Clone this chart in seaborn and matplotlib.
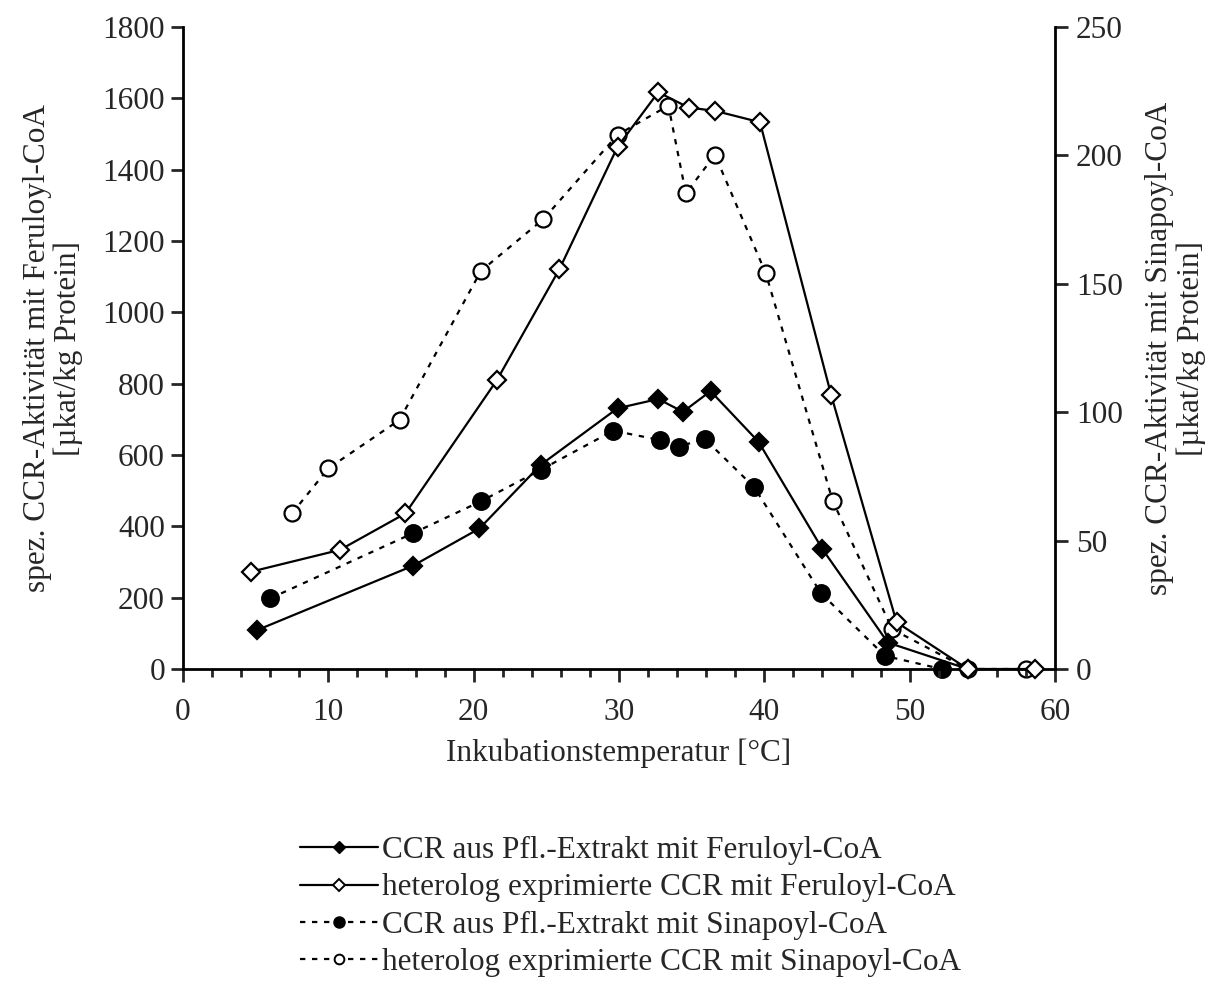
import matplotlib
matplotlib.use("Agg")
import matplotlib.pyplot as plt
from matplotlib.ticker import MultipleLocator
from matplotlib.lines import Line2D
import seaborn as sns

# ---- data ----
x_pfl_fer = [5.1, 15.8, 20.4, 24.6, 29.9, 32.7, 34.4, 36.3, 39.6, 44.0, 48.5, 54.0]
y_pfl_fer = [109, 289, 394, 572, 731, 757, 721, 779, 637, 336, 74, 0]

x_het_fer = [4.7, 10.8, 15.3, 21.6, 25.9, 29.9, 32.7, 34.8, 36.6, 39.7, 44.6, 49.1, 54.0, 58.6]
y_het_fer = [273, 334, 436, 810, 1121, 1464, 1617, 1574, 1565, 1533, 768, 131, 0, 0]

x_pfl_sin = [6.0, 15.8, 20.5, 24.6, 29.6, 32.8, 34.1, 35.9, 39.3, 43.9, 48.3, 52.2]
y_pfl_sin = [27.5, 52.8, 65.3, 77.5, 92.8, 89.2, 86.6, 89.6, 70.8, 29.5, 5.1, 0]

x_het_sin = [7.5, 10.0, 14.9, 20.5, 24.8, 29.9, 33.4, 34.6, 36.6, 40.1, 44.7, 48.8, 54.0, 58.0]
y_het_sin = [60.6, 78.1, 97.0, 155, 175.2, 208, 219.4, 185.2, 200.2, 154.1, 65.5, 15.5, 0, 0]

labels = [
    "CCR aus Pfl.-Extrakt mit Feruloyl-CoA",
    "heterolog exprimierte CCR mit Feruloyl-CoA",
    "CCR aus Pfl.-Extrakt mit Sinapoyl-CoA",
    "heterolog exprimierte CCR mit Sinapoyl-CoA",
]
xlabel = "Inkubationstemperatur [°C]"
ylabel_left = "spez. CCR-Aktivität mit Feruloyl-CoA\n[µkat/kg Protein]"
ylabel_right = "spez. CCR-Aktivität mit Sinapoyl-CoA\n[µkat/kg Protein]"

# ---- style ----
sns.set_style("white")
plt.rcParams["font.family"] = ["Liberation Serif", "DejaVu Serif"]
FS = 22.5
plt.rcParams["font.size"] = FS

fig = plt.figure(figsize=(12.1, 10.01), dpi=100)
ax = fig.add_axes([183 / 1210, 1 - 669 / 1001, (1055 - 183) / 1210, (669 - 27) / 1001])
ax2 = ax.twinx()

LW = 1.6
DASH = (0, (2.4, 3.0))
common = dict(color="black", linewidth=LW, markeredgecolor="black",
              markeredgewidth=1.6, clip_on=False, legend=False)

sns.lineplot(x=x_pfl_fer, y=y_pfl_fer, ax=ax, marker="D", markersize=9,
             markerfacecolor="black", linestyle="-", zorder=5, **common)
sns.lineplot(x=x_het_fer, y=y_het_fer, ax=ax, marker="D", markersize=9,
             markerfacecolor="white", linestyle="-", zorder=6, **common)
sns.lineplot(x=x_pfl_sin, y=y_pfl_sin, ax=ax2, marker="o", markersize=12,
             markerfacecolor="black", linestyle=DASH, zorder=5, **common)
sns.lineplot(x=x_het_sin, y=y_het_sin, ax=ax2, marker="o", markersize=11.5,
             markerfacecolor="white", linestyle=DASH, zorder=6, **common)

ax.set_xlim(0, 60)
ax.set_ylim(0, 1800)
ax2.set_ylim(0, 250)
ax.xaxis.set_major_locator(MultipleLocator(10))
ax.xaxis.set_minor_locator(MultipleLocator(2))
ax.yaxis.set_major_locator(MultipleLocator(200))
ax2.yaxis.set_major_locator(MultipleLocator(50))

for a in (ax, ax2):
    a.spines["top"].set_visible(False)
    for s in ("left", "right", "bottom"):
        a.spines[s].set_linewidth(2.0)
        a.spines[s].set_color("black")
ax.spines["right"].set_visible(False)
ax2.spines["left"].set_visible(False)
ax2.spines["bottom"].set_visible(False)

ax.tick_params(axis="x", which="major", direction="out", length=9, width=2,
               labelsize=FS, pad=12, bottom=True)
ax.tick_params(axis="x", which="minor", direction="out", length=6, width=2, bottom=True)
ax.tick_params(axis="y", which="major", direction="out", length=9, width=2,
               labelsize=FS, pad=4, left=True)
ax2.tick_params(axis="y", which="major", direction="out", length=9, width=2,
                labelsize=FS, pad=6, right=True)
ax.grid(False)
ax2.grid(False)
ax.set_zorder(ax2.get_zorder() + 1)
ax.patch.set_visible(False)

ax.set_xlabel(xlabel, fontsize=FS, labelpad=8)
ax.set_ylabel(ylabel_left, fontsize=FS, labelpad=14, linespacing=1.08)
ax2.set_ylabel(ylabel_right, fontsize=FS, labelpad=16, linespacing=1.12)

handles = [
    Line2D([], [], color="black", lw=LW, marker="D", markersize=6,
           markerfacecolor="black", markeredgecolor="black"),
    Line2D([], [], color="black", lw=LW, marker="D", markersize=6,
           markerfacecolor="white", markeredgecolor="black", markeredgewidth=1.4),
    Line2D([], [], color="black", lw=LW, linestyle=DASH, marker="o", markersize=8,
           markerfacecolor="black", markeredgecolor="black"),
    Line2D([], [], color="black", lw=LW, linestyle=DASH, marker="o", markersize=7,
           markerfacecolor="white", markeredgecolor="black", markeredgewidth=1.4),
]
fig.legend(handles, labels, loc="upper left", bbox_to_anchor=(300 / 1210, 1 - 836 / 1001),
           frameon=False, fontsize=FS, handlelength=2.5, handletextpad=0.12,
           labelspacing=0.27, borderaxespad=0, borderpad=0)

fig.savefig("out.png", dpi=100)
